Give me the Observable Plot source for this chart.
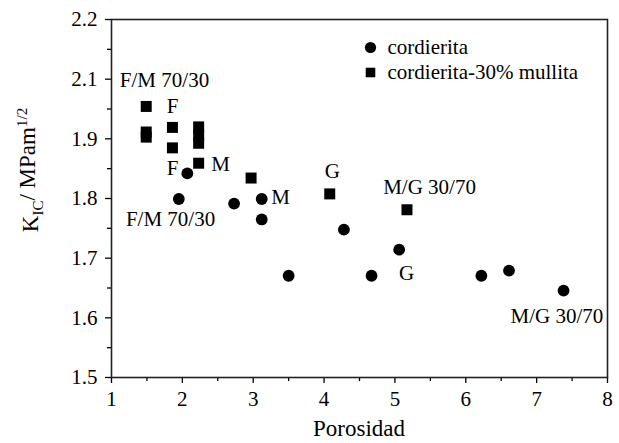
<!DOCTYPE html>
<html><head><meta charset="utf-8">
<script src="https://cdn.jsdelivr.net/npm/d3@7"></script>
<script src="https://cdn.jsdelivr.net/npm/@observablehq/plot@0.6"></script>
<style>
body{margin:0;background:#fff;}
#chart{position:relative;width:619px;height:443px;}
#chart svg, #chart svg text, #chart svg g { font-family: "Liberation Serif", "DejaVu Serif", serif !important; }
</style>
</head><body><div id="chart"></div>
<script>
// cordierita (circles)
const cordieritaX = [1.95, 2.07, 2.73, 3.12, 3.12, 3.50, 4.28, 4.67, 5.06, 6.22, 6.61, 7.38];
const cordieritaY = [1.849, 1.899, 1.840, 1.849, 1.809, 1.699, 1.789, 1.699, 1.750, 1.699, 1.709, 1.670];
// cordierita-30% mullita (squares)
const mullitaX = [1.49, 1.49, 1.49, 1.86, 1.86, 2.23, 2.23, 2.23, 2.23, 2.97, 4.08, 5.17];
const mullitaY = [2.030, 1.980, 1.970, 1.989, 1.949, 1.990, 1.974, 1.958, 1.919, 1.890, 1.859, 1.828];

const xTicks = [1, 2, 3, 4, 5, 6, 7, 8];
const xMinor = [1.5, 2.5, 3.5, 4.5, 5.5, 6.5, 7.5];
const yTickLabels = ["1.5", "1.6", "1.7", "1.8", "1.9", "2.1", "2.2"];
const yTicks = yTickLabels.map((_, i) => 1.5 + i * 0.7 / 6);
const yMinor = yTicks.slice(0, -1).map((t, i) => (t + yTicks[i + 1]) / 2);

const annText = ["F/M 70/30", "F", "F", "M", "G", "M", "F/M 70/30", "M/G 30/70", "G", "M/G 30/70"];
const annX = [1.748, 1.861, 1.861, 2.538, 4.115, 3.385, 1.833, 5.488, 5.163, 7.287];
const annY = [2.081, 2.031, 1.909, 1.917, 1.903, 1.852, 1.809, 1.872, 1.703, 1.619];

const legendLabels = ["cordierita", "cordierita-30% mullita"];
const legendSymbols = ["circle", "square"];

const xTitle = "Porosidad";

const circles = cordieritaX.map((x, i) => ({x, y: cordieritaY[i]}));
const squares = mullitaX.map((x, i) => ({x, y: mullitaY[i]}));
const anns = annText.map((t, i) => ({t, x: annX[i], y: annY[i]}));

const font = "Liberation Serif, DejaVu Serif, serif";

const legendMarks = legendLabels.flatMap((lab, i) => [
  Plot.dot([lab], {frameAnchor: "top-left", dx: 259, dy: 28 + i * 25, r: legendSymbols[i] === "square" ? 5.4 : 5.6, symbol: legendSymbols[i], fill: "black", stroke: "none"}),
  Plot.text([lab], {text: d => d, frameAnchor: "top-left", dx: 276, dy: 28 + i * 25, textAnchor: "start", lineAnchor: "middle", fontSize: 21, fill: "black"})
]);

const chart = Plot.plot({
  width: 619,
  height: 443,
  marginLeft: 111,
  marginRight: 12,
  marginTop: 19,
  marginBottom: 66,
  style: {fontFamily: font, fontSize: "21px", color: "black", background: "white"},
  x: {domain: [1, 8], label: null},
  y: {domain: [1.5, 2.2], label: null},
  marks: [
    Plot.axisX(xTicks, {tickSize: 6, tickPadding: 8, tickFormat: d => String(d), label: null, strokeWidth: 1.3, fontSize: 21}),
    Plot.axisX(xMinor, {tickSize: 4, tickFormat: () => "", label: null, strokeWidth: 1.3}),
    Plot.axisY(yTicks, {tickSize: 6, tickPadding: 8, tickFormat: d => yTickLabels[yTicks.findIndex(t => Math.abs(t - d) < 1e-9)], label: null, strokeWidth: 1.3, fontSize: 21}),
    Plot.axisY(yMinor, {tickSize: 4, tickFormat: () => "", label: null, strokeWidth: 1.3}),
    Plot.frame({stroke: "#222", strokeWidth: 1.6}),
    Plot.dot(circles, {x: "x", y: "y", r: 5.9, symbol: "circle", fill: "black", stroke: "none"}),
    Plot.dot(squares, {x: "x", y: "y", r: 6.2, symbol: "square", fill: "black", stroke: "none"}),
    Plot.text(anns, {x: "x", y: "y", text: "t", fontSize: 21, textAnchor: "middle", lineAnchor: "middle", fill: "black"}),
    ...legendMarks
  ]
});

const svg = d3.select(chart);
svg.attr("font-family", font);
// x axis title
svg.append("text")
  .attr("x", 111 + (607 - 111) / 2)
  .attr("y", 436)
  .attr("text-anchor", "middle")
  .attr("font-size", 23)
  .attr("fill", "black")
  .text(xTitle);
// y axis title with subscript/superscript
const yt = svg.append("text")
  .attr("transform", "translate(38,170) rotate(-90)")
  .attr("text-anchor", "middle")
  .attr("font-size", 23)
  .attr("fill", "black");
yt.append("tspan").text("K");
yt.append("tspan").attr("font-size", 15).attr("dy", "0.35em").text("IC");
yt.append("tspan").attr("dy", "-0.35em").text("/ MPam");
yt.append("tspan").attr("font-size", 15).attr("dy", "-0.55em").text("1/2");

document.getElementById("chart").appendChild(chart);
</script>
</body></html>
